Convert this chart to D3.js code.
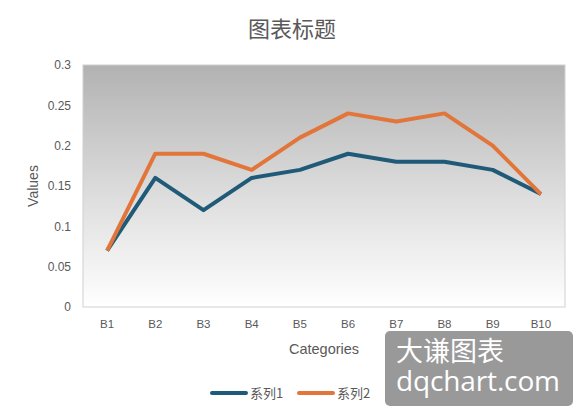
<!DOCTYPE html>
<meta charset="utf-8">
<style>
    body { margin: 0; background: white; }
    svg { display: block; background: white; }
    text { font-family: "Liberation Sans", "Noto Sans CJK SC", sans-serif; fill: #595959; }
    .cjk { font-family: "Noto Sans CJK SC", sans-serif; }
</style>
<svg width="584" height="417"></svg>
<script src="https://d3js.org/d3.v7.min.js"></script>
<script>
    // chart data
    var categories = ["B1", "B2", "B3", "B4", "B5", "B6", "B7", "B8", "B9", "B10"];
    var series1 = [0.07, 0.16, 0.12, 0.16, 0.17, 0.19, 0.18, 0.18, 0.17, 0.14];
    var series2 = [0.07, 0.19, 0.19, 0.17, 0.21, 0.24, 0.23, 0.24, 0.20, 0.14];
    var seriesNames = ["系列1", "系列2"];
    var yTicks = [0, 0.05, 0.1, 0.15, 0.2, 0.25, 0.3];

    var colors = ["#1f5b79", "#e2763a"];
    var allSeries = [series1, series2];

    var svg = d3.select("svg"),
        margin = {top: 65, right: 19, bottom: 110, left: 83},
        width = 584 - margin.left - margin.right,
        height = 417 - margin.top - margin.bottom;

    var defs = svg.append("defs");
    var grad = defs.append("linearGradient")
        .attr("id", "bg").attr("x1", 0).attr("y1", 0).attr("x2", 0).attr("y2", 1);
    grad.append("stop").attr("offset", "0%").attr("stop-color", "#b2b2b2");
    grad.append("stop").attr("offset", "55%").attr("stop-color", "#dedede");
    grad.append("stop").attr("offset", "100%").attr("stop-color", "#ffffff");

    var g = svg.append("g").attr("transform", "translate(" + margin.left + "," + margin.top + ")");

    var x = d3.scaleBand().domain(categories).range([0, width]);
    var y = d3.scaleLinear().domain([0, 0.3]).range([height, 0]);

    g.append("rect")
        .attr("width", width).attr("height", height)
        .attr("fill", "url(#bg)")
        .attr("stroke", "#d0d0d0").attr("stroke-width", 1);

    // y tick labels
    g.selectAll(".ytick")
        .data(yTicks)
        .enter().append("text")
        .attr("x", -12)
        .attr("y", function (d) { return y(d); })
        .attr("dy", "0.35em")
        .attr("text-anchor", "end")
        .style("font-size", "12px")
        .text(function (d) { return d; });

    // x tick labels
    g.selectAll(".xtick")
        .data(categories)
        .enter().append("text")
        .attr("x", function (d) { return x(d) + x.bandwidth() / 2; })
        .attr("y", height + 21)
        .attr("text-anchor", "middle")
        .style("font-size", "11.5px")
        .text(function (d) { return d; });

    var line = d3.line()
        .x(function (d, i) { return x(categories[i]) + x.bandwidth() / 2; })
        .y(function (d) { return y(d); });

    g.selectAll(".series")
        .data(allSeries)
        .enter().append("path")
        .attr("d", line)
        .attr("fill", "none")
        .attr("stroke", function (d, i) { return colors[i]; })
        .attr("stroke-width", 4)
        .attr("stroke-linejoin", "round");

    // titles
    svg.append("text")
        .attr("class", "cjk")
        .attr("x", 292).attr("y", 37)
        .attr("text-anchor", "middle")
        .style("font-size", "22px")
        .text("图表标题");

    svg.append("text")
        .attr("transform", "translate(38," + (margin.top + height / 2) + ") rotate(-90)")
        .attr("text-anchor", "middle")
        .style("font-size", "14px")
        .text("Values");

    svg.append("text")
        .attr("x", margin.left + width / 2).attr("y", 354)
        .attr("text-anchor", "middle")
        .style("font-size", "14.5px")
        .text("Categories");

    // legend
    var legend = svg.selectAll(".legend")
        .data(seriesNames)
        .enter().append("g")
        .attr("transform", function (d, i) { return "translate(" + (212 + i * 87) + ",393)"; });
    legend.append("line")
        .attr("x1", 0).attr("x2", 34)
        .attr("stroke", function (d, i) { return colors[i]; })
        .attr("stroke-width", 4)
        .attr("stroke-linecap", "round");
    legend.append("text")
        .attr("class", "cjk")
        .attr("x", 38).attr("dy", "0.35em")
        .style("font-size", "13px")
        .text(function (d) { return d; });

    // watermark
    var wm = svg.append("g");
    wm.append("rect")
        .attr("x", 385).attr("y", 331).attr("width", 188).attr("height", 75)
        .attr("rx", 5).attr("fill", "#999999");
    wm.append("text")
        .attr("class", "cjk")
        .attr("x", 396).attr("y", 361)
        .style("font-size", "27px").style("fill", "white")
        .text("大谦图表");
    wm.append("text")
        .attr("x", 396).attr("y", 391)
        .style("font-family", "'Open Sans', sans-serif")
        .style("font-size", "28px").style("fill", "white")
        .attr("textLength", 164)
        .text("dqchart.com");
</script>
